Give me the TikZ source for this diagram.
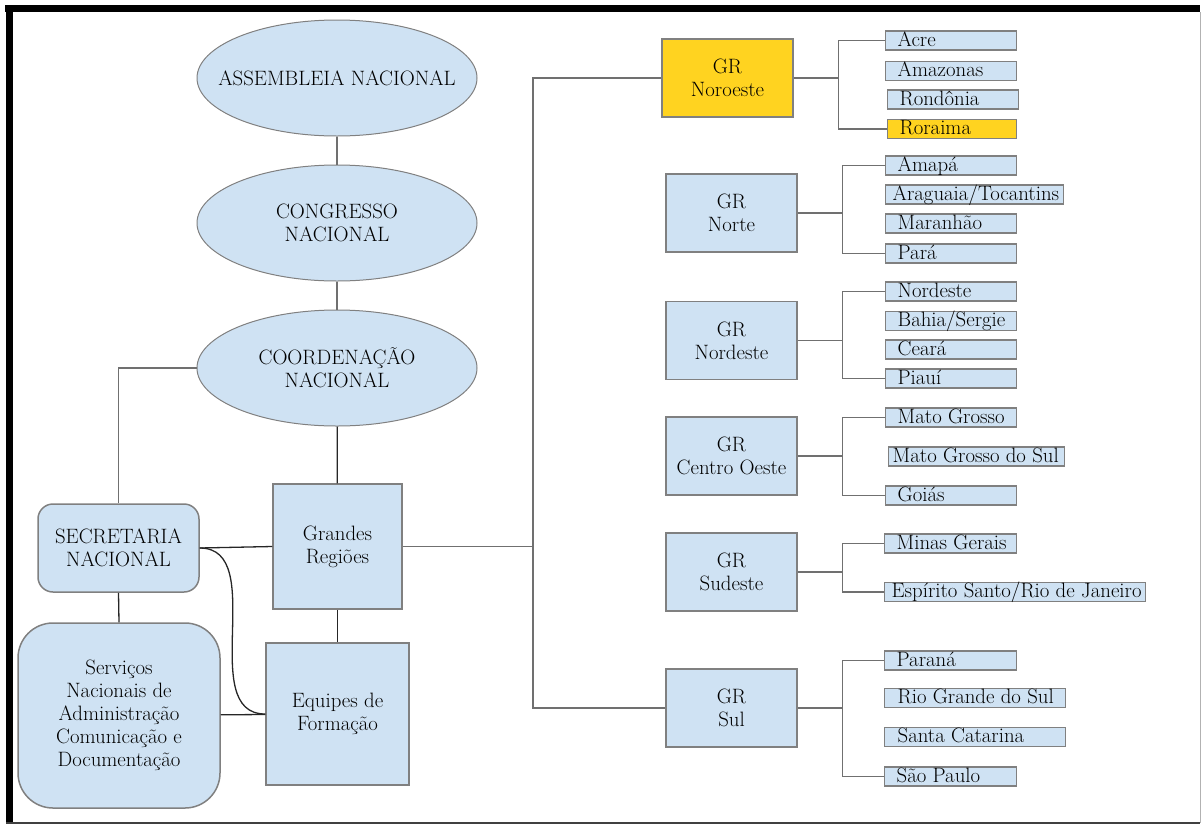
\documentclass[tikz,border=0pt]{standalone}
\usetikzlibrary{positioning, shapes.geometric}

\definecolor{boxblue}{RGB}{207,226,243}
\definecolor{boxgold}{RGB}{255,211,32}
\definecolor{edgegray}{RGB}{128,128,128}
\definecolor{linkgray}{RGB}{112,112,112}
\newcommand{\estado}[2][107pt]{\makebox[#1][l]{#2}}

\begin{document}
\begin{tikzpicture}[x=1pt, y=-1pt, node distance=145pt, on grid,
  every node/.style={font=\fontsize{20.8}{23}\selectfont, text=black},
  orgao/.style={ellipse, draw=edgegray, line width=1pt, fill=boxblue, minimum width=280pt, minimum height=116pt, inner xsep=-25pt, inner ysep=0pt, align=center},
  caixa/.style={rectangle, draw=edgegray, line width=1.5pt, fill=boxblue, align=center},
  redonda/.style={caixa, rounded corners=#1},
  regiao/.style={caixa, minimum width=131pt, minimum height=78pt},
  estadobox/.style={rectangle, draw=edgegray, line width=1.3pt, fill=boxblue, anchor=west, inner xsep=12pt, inner ysep=0pt, text height=15pt, text depth=4pt},
  link/.style={draw=linkgray, line width=1.3pt},
  forte/.style={draw=black!85, line width=1.3pt}]
  \useasboundingbox (0,0) rectangle (1201,825);

  % Frame
  \fill[black] (5,5) rectangle (1200,12);
  \fill[black] (6,5) rectangle (13,823);
  \draw[black!30, line width=1pt] (1200,12) -- (1200,823);
  \draw[black!75, line width=2pt] (6,823) -- (1200,823);

  % National bodies
  \node[orgao] (assembleia) at (337,78)              {ASSEMBLEIA NACIONAL};
  \node[orgao] (congresso)  [below=of assembleia]    {CONGRESSO\\NACIONAL};
  \node[orgao] (coordenacao) [below=of congresso]    {COORDENAÇÃO\\NACIONAL};
  \node[caixa, minimum width=129pt, minimum height=125pt] (grandes) at (337.5,546.5) {Grandes\\Regiões};
  \node[caixa, minimum width=143pt, minimum height=142pt] (equipes) at (337.5,714)   {Equipes de\\Formação};
  \node[redonda=15pt, minimum width=161pt, minimum height=88pt]  (secretaria) at (118.5,548) {SECRETARIA\\NACIONAL};
  \node[redonda=35pt, minimum width=202pt, minimum height=185pt] (servicos)   at (119,715.5)  {Serviços\\Nacionais de\\Administração\\Comunicação e\\Documentação};

  % Great regions
  \node[regiao, fill=boxgold] (noroeste) at (727.5,78)  {GR\\Noroeste};
  \node[regiao] (norte)    at (731.5,213)   {GR\\Norte};
  \node[regiao] (nordeste) at (731.5,340.5) {GR\\Nordeste};
  \node[regiao] (centro)   at (731.5,456)   {GR\\Centro Oeste};
  \node[regiao] (sudeste)  at (731.5,572)   {GR\\Sudeste};
  \node[regiao] (sul)      at (731.5,708)   {GR\\Sul};

  % States
  \node[estadobox] (acre)     at (885,40.5)  {\estado{Acre}};
  \node[estadobox] (amazonas) at (885,71)    {\estado{Amazonas}};
  \node[estadobox] (rondonia) at (887,99.5)  {\estado{Rondônia}};
  \node[estadobox, fill=boxgold] (roraima) at (887,129) {\estado[105pt]{Roraima}};

  \node[estadobox] (amapa)    at (885,165.5) {\estado{Amapá}};
  \node[estadobox, inner xsep=7pt] (araguaia) at (885,194.5) {\estado[164pt]{Araguaia/Tocantins}};
  \node[estadobox] (maranhao) at (885,223.5) {\estado{Maranhão}};
  \node[estadobox] (para)     at (885,253.5) {\estado{Pará}};

  \node[estadobox] (nordesteuf) at (885,291.5) {\estado{Nordeste}};
  \node[estadobox] (bahia)    at (885,321)   {\estado{Bahia/Sergie}};
  \node[estadobox] (ceara)    at (885,349.5) {\estado{Ceará}};
  \node[estadobox] (piaui)    at (885,378.5) {\estado{Piauí}};

  \node[estadobox] (matogrosso) at (885,417.5) {\estado{Mato Grosso}};
  \node[estadobox, inner xsep=4pt] (matogrossosul) at (888,456.5) {\estado[168pt]{Mato Grosso do Sul}};
  \node[estadobox] (goias)    at (885,495.5) {\estado{Goiás}};

  \node[estadobox] (minas)    at (884,543.5) {\estado[108pt]{Minas Gerais}};
  \node[estadobox, inner xsep=7pt] (espirito) at (884,592) {\estado[247pt]{Espírito Santo/Rio de Janeiro}};

  \node[estadobox] (parana)   at (884,660.5) {\estado[108pt]{Paraná}};
  \node[estadobox, inner xsep=13pt] (riogrande) at (884,698) {\estado[155pt]{Rio Grande do Sul}};
  \node[estadobox, inner xsep=13pt] (santacatarina) at (884,737) {\estado[155pt]{Santa Catarina}};
  \node[estadobox] (saopaulo) at (884,776.5) {\estado[108pt]{São Paulo}};

  % Edges
  \path[link] (assembleia) edge (congresso)
              (congresso)  edge (coordenacao);
  \path[forte] (coordenacao) edge (grandes)
               (secretaria.south) edge (servicos.north)
               (secretaria.east) edge (grandes.west)
               (secretaria.east) edge [out=0, in=180] (equipes.west)
               (servicos) edge (equipes)
               (grandes) edge (equipes);
  \draw[link] (coordenacao.west) -| (secretaria.north);

  \coordinate (tronco) at (533,546.5);
  \draw[link] (grandes.east) -- (tronco);
  \draw[link] (noroeste.west) -| (tronco) |- (sul.west);

  \foreach \gr/\primeiro/\ultimo in {noroeste/acre/roraima, norte/amapa/para,
      nordeste/nordesteuf/piaui, centro/matogrosso/goias,
      sudeste/minas/espirito, sul/parana/saopaulo}
    \draw[link] (\gr.east) -- ++(45pt,0) coordinate (chave)
                (\primeiro.west) -| (chave) |- (\ultimo.west);
\end{tikzpicture}
\end{document}
